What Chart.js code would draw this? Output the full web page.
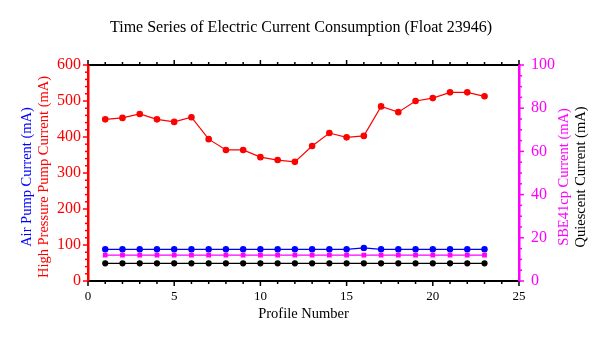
<!DOCTYPE html>
<html>
<head>
<meta charset="utf-8">
<script src="https://cdn.jsdelivr.net/npm/chart.js@4"></script>
<style>
  html, body { margin: 0; padding: 0; background: #fff; }
  #wrap { width: 604px; height: 338px; }
</style>
</head>
<body>
<div id="wrap"><canvas id="currentChart" width="604" height="338"></canvas></div>
<script>
const profiles = [1, 2, 3, 4, 5, 6, 7, 8, 9, 10, 11, 12, 13, 14, 15, 16, 17, 18, 19, 20, 21, 22, 23];
const highPressurePump = [449, 453, 464, 449, 442, 455, 394, 364, 364, 344, 336, 331, 375, 411, 399, 403, 485, 469, 500, 508, 524, 524, 513];
const airPump = [88, 88, 88, 88, 88, 88, 88, 88, 88, 88, 88, 88, 88, 88, 88, 92, 88, 88, 88, 88, 88, 88, 88];
const sbe41cp = [12, 12, 12, 12, 12, 12, 12, 12, 12, 12, 12, 12, 12, 12, 12, 12, 12, 12, 12, 12, 12, 12, 12];
const quiescent = [8.2, 8.2, 8.2, 8.2, 8.2, 8.2, 8.2, 8.2, 8.2, 8.2, 8.2, 8.2, 8.2, 8.2, 8.2, 8.2, 8.2, 8.2, 8.2, 8.2, 8.2, 8.2, 8.2];

const FONT = 'Liberation Serif';

function pts(values) {
  return profiles.map((p, i) => ({ x: p, y: values[i] }));
}

// outward tick marks, major + minor
const tickMarks = {
  id: 'tickMarks',
  afterDraw(chart) {
    const ctx = chart.ctx;
    const s = chart.scales;
    const area = chart.chartArea;
    ctx.save();
    ctx.lineWidth = 1.5;
    function run(scale, min, max, minor, major, color, fn) {
      ctx.strokeStyle = color;
      for (let v = min; v <= max + 1e-9; v += minor) {
        const isMajor = Math.abs(v / major - Math.round(v / major)) < 1e-6;
        const len = isMajor ? 5 : 3;
        const p = scale.getPixelForValue(v);
        ctx.beginPath();
        fn(p, len);
        ctx.stroke();
      }
    }
    run(s.x, 0, 25, 1, 5, '#000', (p, len) => { ctx.moveTo(p, area.bottom); ctx.lineTo(p, area.bottom + len); });
    run(s.x2, 0, 25, 1, 5, '#000', (p, len) => { ctx.moveTo(p, area.top); ctx.lineTo(p, area.top - len); });
    run(s.y, 0, 600, 20, 100, '#ff0000', (p, len) => { ctx.moveTo(area.left, p); ctx.lineTo(area.left - len, p); });
    run(s.y1, 0, 100, 5, 20, '#ff00ff', (p, len) => { ctx.moveTo(area.right, p); ctx.lineTo(area.right + len, p); });
    ctx.restore();
  }
};

// title and axis titles
const labels = {
  id: 'labels',
  afterDraw(chart) {
    const ctx = chart.ctx;
    const area = chart.chartArea;
    const midY = (area.top + area.bottom) / 2;
    ctx.save();
    ctx.textAlign = 'center';
    ctx.textBaseline = 'middle';
    ctx.fillStyle = '#000';
    ctx.font = '16px ' + FONT;
    ctx.fillText('Time Series of Electric Current Consumption (Float 23946)', 301, 28);
    ctx.font = '14.5px ' + FONT;
    ctx.fillText('Profile Number', (area.left + area.right) / 2, 314);

    function vert(text, x, color) {
      ctx.save();
      ctx.translate(x, midY + 4);
      ctx.rotate(-Math.PI / 2);
      ctx.fillStyle = color;
      ctx.fillText(text, 0, 0);
      ctx.restore();
    }
    ctx.font = '14.5px ' + FONT;
    vert('Air Pump Current (mA)', 27, '#0000ff');
    vert('High Pressure Pump Current (mA)', 44, '#ff0000');
    vert('SBE41cp Current (mA)', 564, '#ff00ff');
    vert('Quiescent Current (mA)', 581, '#000');
    ctx.restore();
  }
};

const tickFont = { family: FONT, size: 16 };

new Chart(document.getElementById('currentChart'), {
  type: 'line',
  data: {
    datasets: [
      {
        label: 'High Pressure Pump',
        data: pts(highPressurePump),
        yAxisID: 'y',
        borderColor: '#ff0000',
        backgroundColor: '#ff0000',
        borderWidth: 1.2,
        pointRadius: 2.7,
        pointStyle: 'circle'
      },
      {
        label: 'Air Pump',
        data: pts(airPump),
        yAxisID: 'y',
        borderColor: '#0000ff',
        backgroundColor: '#0000ff',
        borderWidth: 1.2,
        pointRadius: 2.6,
        pointStyle: 'circle'
      },
      {
        label: 'SBE41cp',
        data: pts(sbe41cp),
        yAxisID: 'y1',
        borderColor: '#ff00ff',
        backgroundColor: '#ff00ff',
        borderWidth: 1.2,
        pointRadius: 2.5,
        pointStyle: 'rect'
      },
      {
        label: 'Quiescent',
        data: pts(quiescent),
        yAxisID: 'y1',
        borderColor: '#000000',
        backgroundColor: '#000000',
        borderWidth: 1.2,
        pointRadius: 2.5,
        pointStyle: 'circle'
      }
    ]
  },
  options: {
    responsive: false,
    animation: false,
    layout: { padding: 0 },
    plugins: {
      legend: { display: false },
      title: { display: false },
      tooltip: { enabled: false }
    },
    scales: {
      x: {
        type: 'linear',
        position: 'bottom',
        min: 0,
        max: 25,
        ticks: { stepSize: 5, color: '#000', font: { family: FONT, size: 13 }, padding: 8, maxRotation: 0 },
        grid: { display: true, drawOnChartArea: false, drawTicks: false },
        border: { color: '#000', width: 2 },
        afterFit(scale) { scale.height = 57; }
      },
      x2: {
        type: 'linear',
        position: 'top',
        min: 0,
        max: 25,
        ticks: { display: false },
        grid: { display: true, drawOnChartArea: false, drawTicks: false },
        border: { color: '#000', width: 2 },
        afterFit(scale) { scale.height = 65; }
      },
      y: {
        type: 'linear',
        position: 'left',
        min: 0,
        max: 600,
        ticks: { stepSize: 100, color: '#ff0000', font: tickFont, padding: 7 },
        grid: { display: true, drawOnChartArea: false, drawTicks: false },
        border: { color: '#ff0000', width: 2.5 },
        afterFit(scale) { scale.width = 88; }
      },
      y1: {
        type: 'linear',
        position: 'right',
        min: 0,
        max: 100,
        ticks: { stepSize: 20, color: '#ff00ff', font: tickFont, padding: 12 },
        grid: { display: true, drawOnChartArea: false, drawTicks: false },
        border: { color: '#ff00ff', width: 2.5 },
        afterFit(scale) { scale.width = 85; }
      }
    }
  },
  plugins: [tickMarks, labels]
});
</script>
</body>
</html>
